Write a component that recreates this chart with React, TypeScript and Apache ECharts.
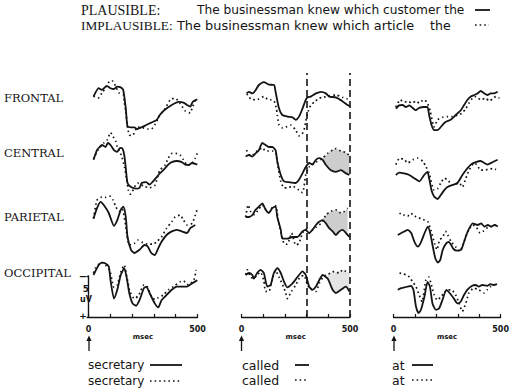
import React, { useEffect, useRef } from 'react';
import * as echarts from 'echarts';

// ---------- categories / labels ----------
const ROW_LABELS = ['FRONTAL', 'CENTRAL', 'PARIETAL', 'OCCIPITAL'];
const WORDS = ['secretary', 'called', 'at'];
const X_TICK_LABELS: Record<number, string> = { 0: '0', 500: '500' };
const X_UNIT = 'msec';
const SCALE_LABELS = ['5', 'uV', '−', '+'];
const DASH_MS = [300, 500];
const HEADER_PL = ['PLAUSIBLE:', 'The businessman knew which customer the'];
const HEADER_IM = ['IMPLAUSIBLE:', 'The businessman knew which article', 'the'];

// ---------- data: [ms, microvolts] (negative plotted up) ----------
// "secretary"
const SEC_F_PL = [[23,-1.3],[47,-2.35],[61,-2.15],[84,-2.65],[101,-2.35],[117,-2.25],[131,-2.55],[148,-2.45],[159,-2.15],[171,0.15],[179,2.45],[195,2.55],[210,2.55],[223,2.75],[242,2.55],[265,2.25],[288,1.95],[312,1.65],[327,1.0],[350,0.35],[382,-0.25],[413,-0.65],[436,-0.55],[452,-0.25],[467,-0.05],[478,-0.65],[499,-0.95]];
const SEC_F_IM = [[23,-1.35],[47,-1.15],[61,-1.75],[84,-2.6],[98,-3.25],[110,-3.25],[125,-2.55],[140,-1.75],[160,-1.5],[164,-0.65],[171,0.55],[176,1.85],[187,3.5],[202,3.55],[225,2.5],[250,2.6],[272,2.75],[288,2.75],[304,2.25],[327,1.05],[350,0.25],[382,-1.05],[400,-1.05],[420,-0.45],[444,0.5],[467,0.75],[475,0.15],[490,-0.85]];
const SEC_C_PL = [[23,-0.9],[39,-2.1],[51,-2.5],[62,-2.75],[78,-2.5],[89,-3.0],[101,-2.75],[117,-2.1],[132,-1.9],[145,-2.4],[156,-2.3],[164,-1.5],[171,0.1],[179,2.0],[195,2.5],[218,2.7],[234,2.6],[244,2.0],[265,1.9],[280,2.2],[296,1.8],[312,1.3],[327,0.8],[350,0.2],[366,-0.3],[382,-0.6],[405,-0.75],[428,-0.6],[444,-0.3],[459,-0.25],[475,-0.5],[499,-0.3]];
const SEC_C_IM = [[23,-1.0],[45,-2.2],[70,-3.0],[86,-3.4],[101,-4.3],[113,-3.8],[125,-3.2],[132,-2.5],[150,-1.5],[165,0.0],[175,1.5],[183,2.9],[192,3.4],[200,3.1],[225,2.0],[255,2.4],[280,2.6],[304,2.3],[320,1.0],[327,0.4],[350,-0.2],[366,-1.1],[383,-1.7],[400,-1.7],[420,-1.5],[436,-0.9],[455,-0.2],[475,-0.5],[490,-1.1],[499,-1.7]];
const SEC_P_PL = [[23,-0.8],[39,-2.1],[55,-2.9],[70,-2.5],[93,-1.5],[117,0.1],[132,-0.6],[148,-1.9],[160,-2.3],[171,-1.0],[179,1.5],[195,3.1],[210,3.5],[234,3.1],[257,2.5],[272,2.7],[288,3.5],[304,3.75],[320,2.9],[335,2.1],[358,1.25],[382,0.8],[405,0.6],[428,0.8],[452,1.0],[467,0.4],[490,0.0]];
const SEC_P_IM = [[23,-0.8],[39,-3.1],[62,-3.5],[78,-3.45],[98,-3.6],[113,-3.1],[125,-2.3],[140,-1.7],[155,-2.0],[171,0.2],[187,2.5],[210,2.3],[226,1.9],[249,2.2],[272,2.4],[296,2.4],[316,2.0],[335,1.5],[358,0.4],[382,-0.4],[397,-1.0],[420,-1.25],[436,-0.6],[452,0.0],[475,-0.2],[490,-1.25],[499,-2.0]];
const SEC_O_PL = [[23,-1.25],[47,-2.5],[62,-2.8],[78,-2.7],[93,-2.3],[101,-0.6],[117,1.7],[132,0.6],[148,-1.25],[164,-2.1],[176,-0.8],[187,1.0],[202,2.3],[218,2.6],[234,1.9],[254,0.4],[265,0.2],[280,1.0],[304,2.3],[320,2.8],[335,1.9],[358,1.25],[382,0.6],[405,0.2],[428,0.2],[452,0.2],[475,-0.2],[499,-0.6]];
const SEC_O_IM = [[23,-1.5],[31,-2.1],[47,-2.6],[62,-2.8],[78,-2.5],[93,-2.0],[101,-1.5],[109,-0.4],[117,0.3],[132,0.0],[148,-1.6],[164,-2.5],[176,-1.0],[190,0.8],[210,1.7],[230,1.3],[254,0.0],[270,0.2],[288,1.4],[304,1.8],[320,1.6],[343,1.25],[366,0.6],[390,0.2],[420,-0.4],[436,-0.5],[459,0.0],[483,-0.6],[494,-1.9]];
// "called"
const CAL_F_PL = [[23,-1.7],[34,-1.9],[50,-1.7],[65,-2.1],[80,-2.75],[103,-3.1],[126,-2.8],[150,-2.75],[157,-1.9],[173,0.2],[188,1.0],[212,1.2],[235,1.3],[250,1.6],[265,1.2],[281,0.2],[296,-0.9],[304,-1.2],[319,-1.3],[343,-1.7],[366,-1.9],[389,-1.7],[404,-1.3],[435,-1.2],[466,-0.7],[489,-0.25],[500,-0.1]];
const CAL_F_IM = [[23,-1.6],[31,-1.5],[42,-1.0],[65,-0.9],[80,-1.0],[103,-1.3],[119,-1.0],[134,-0.9],[150,-0.75],[161,0.2],[165,1.0],[173,2.25],[188,2.6],[204,2.5],[227,2.25],[250,2.9],[265,3.6],[278,3.4],[288,2.9],[296,1.8],[304,0.8],[319,-0.2],[339,-0.7],[358,-1.1],[376,-1.2],[404,-1.4],[435,-1.5],[466,-1.2],[489,-1.0]];
const CAL_C_PL = [[19,-1.3],[34,-1.5],[50,-1.3],[65,-1.7],[80,-2.1],[96,-3.0],[111,-2.75],[126,-2.5],[142,-2.5],[157,-2.1],[165,-0.7],[181,1.0],[196,1.8],[219,1.9],[250,2.0],[265,1.6],[281,0.8],[296,0.0],[312,-0.5],[327,-0.3],[343,-0.9],[358,-1.1],[374,-0.9],[389,-0.25],[412,0.4],[435,0.6],[458,0.4],[481,0.8],[497,1.0]];
const CAL_C_IM = [[23,-2.1],[42,-1.4],[57,-1.6],[72,-2.0],[96,-2.4],[111,-2.0],[126,-2.0],[142,-2.0],[157,-1.8],[165,-0.5],[181,1.8],[196,2.6],[211,2.6],[235,2.4],[265,2.9],[281,3.2],[288,2.5],[296,1.0],[312,0.0],[343,-0.6],[374,-1.1],[397,-1.7],[420,-2.1],[435,-2.3],[458,-2.0],[481,-1.8],[494,-1.5]];
const CAL_P_PL = [[19,-1.0],[34,-1.0],[50,-1.25],[65,-1.9],[80,-2.3],[96,-2.7],[111,-1.9],[126,-1.5],[142,-2.1],[157,-2.3],[165,-1.0],[181,0.6],[188,1.7],[211,1.7],[235,1.5],[258,1.5],[281,0.8],[296,0.6],[312,1.0],[327,0.6],[343,0.0],[358,-0.4],[374,-0.6],[389,-0.2],[404,0.4],[420,0.8],[435,1.25],[451,0.8],[466,0.6],[489,1.25],[500,1.5]];
const CAL_P_IM = [[19,-1.0],[31,-2.5],[42,-1.7],[57,-1.3],[80,-2.0],[96,-2.5],[111,-2.0],[126,-1.6],[142,-2.2],[157,-2.4],[170,-0.5],[181,0.8],[196,2.3],[211,2.4],[231,1.0],[250,2.5],[265,2.3],[281,1.0],[296,0.5],[312,1.0],[327,0.6],[343,0.3],[366,-0.2],[389,-1.25],[412,-1.7],[435,-1.9],[458,-1.5],[474,-1.7],[489,-2.1]];
const CAL_O_PL = [[19,-1.25],[34,-1.5],[50,-1.25],[57,-0.8],[72,-1.5],[88,-1.9],[103,-1.5],[119,0.2],[134,0.0],[149,-1.5],[165,-2.1],[181,-1.5],[196,-0.4],[211,0.3],[235,-0.2],[258,-1.0],[281,-1.7],[296,-1.25],[312,0.2],[327,0.6],[343,0.2],[358,-0.6],[374,-1.25],[397,-0.8],[420,0.6],[435,1.0],[458,0.6],[481,0.2],[497,0.8]];
const CAL_O_IM = [[19,-1.3],[26,-1.9],[42,-1.0],[57,-0.8],[72,-1.3],[88,-1.6],[103,-0.5],[111,0.8],[126,0.8],[141,-0.6],[157,-1.8],[173,-1.0],[196,0.4],[204,1.0],[211,1.7],[230,0.8],[250,0.0],[270,-1.0],[288,-1.2],[304,0.0],[320,0.5],[343,0.8],[360,-0.3],[374,-0.9],[389,-1.25],[412,-1.5],[427,-1.7],[450,-1.5],[466,-1.9],[481,-1.7],[497,-1.5]];
// "at"
const AT_F_PL = [[11,0.2],[26,-0.2],[42,-0.25],[57,0.0],[73,-0.2],[88,0.1],[103,0.4],[119,0.1],[142,0.0],[157,0.0],[165,1.0],[176,2.25],[188,2.9],[204,2.9],[219,2.5],[235,2.0],[250,1.75],[265,1.6],[281,1.2],[296,0.8],[312,0.4],[327,-0.25],[343,-0.9],[358,-1.3],[374,-1.5],[389,-1.7],[404,-2.0],[420,-1.7],[435,-1.5],[450,-1.7],[466,-1.7],[482,-1.9]];
const AT_F_IM = [[11,0.0],[31,-0.9],[50,-0.6],[65,-0.7],[88,-0.5],[103,-0.75],[119,-0.5],[139,-0.9],[155,-0.6],[170,0.5],[188,2.5],[204,1.6],[227,1.3],[250,1.2],[273,1.2],[296,1.0],[316,0.8],[335,0.2],[350,-0.5],[366,-1.1],[381,-1.3],[404,-0.9],[427,-1.1],[443,-0.75],[458,-1.0],[474,-1.3],[490,-1.1]];
const AT_C_PL = [[11,1.0],[26,0.7],[49,0.8],[73,1.0],[96,1.4],[119,1.8],[142,1.0],[157,0.6],[165,1.4],[176,2.9],[188,3.7],[204,4.0],[219,3.5],[235,2.9],[250,2.5],[273,2.25],[296,2.0],[319,1.0],[335,0.4],[358,-0.3],[381,-0.6],[404,-0.75],[420,-0.5],[435,-0.3],[458,-0.6],[482,-0.9]];
const AT_C_IM = [[11,-0.3],[28,-1.1],[51,-0.9],[66,-0.5],[89,-0.9],[113,-1.1],[136,-0.7],[151,0.0],[165,0.8],[188,2.9],[204,2.7],[219,2.0],[235,1.4],[250,1.6],[273,2.25],[304,2.0],[319,2.5],[335,1.4],[350,0.4],[374,-0.5],[385,-0.3],[404,0.4],[420,0.4],[437,0.3],[460,0.2],[475,0.3]];
const AT_P_PL = [[20,1.25],[36,1.0],[51,0.8],[66,0.6],[82,1.0],[97,2.1],[113,2.7],[128,2.1],[144,1.0],[159,0.2],[170,1.0],[182,2.7],[194,4.2],[205,4.7],[216,4.4],[228,3.1],[244,2.3],[256,2.1],[267,2.5],[278,3.0],[293,3.2],[313,3.1],[329,1.9],[344,0.8],[367,-0.2],[390,0.0],[406,-0.2],[421,0.2],[437,0.0],[452,0.2],[468,0.0],[483,0.2]];
const AT_P_IM = [[28,-1.5],[43,-1.2],[51,-1.25],[66,-1.1],[74,-1.4],[89,-1.4],[105,-1.0],[128,-0.8],[144,-0.6],[159,-0.4],[175,0.8],[190,2.3],[201,3.1],[213,1.9],[228,1.5],[241,0.8],[251,1.25],[267,2.1],[290,2.8],[306,3.3],[321,2.5],[344,0.8],[367,0.0],[384,0.3],[401,1.0],[414,0.8],[437,0.3],[452,0.2],[468,0.0],[483,0.0]];
const AT_O_PL = [[20,0.6],[36,0.4],[51,0.3],[66,0.2],[82,0.1],[93,0.6],[105,2.7],[117,3.5],[128,3.1],[144,1.5],[159,-0.4],[170,0.2],[182,2.3],[198,3.1],[213,2.9],[228,1.9],[247,0.6],[262,1.0],[282,1.7],[298,2.3],[313,2.1],[329,1.25],[344,0.6],[367,0.1],[383,0.0],[398,0.2],[414,0.0],[437,0.1],[452,-0.1],[468,0.0],[483,-0.1]];
const AT_O_IM = [[28,-1.5],[43,-1.4],[59,-1.25],[74,-1.0],[89,-0.4],[105,0.2],[120,1.25],[133,2.1],[151,-0.6],[164,-1.0],[177,0.0],[190,1.25],[205,1.9],[220,1.5],[236,1.0],[251,0.6],[270,0.6],[290,1.25],[306,2.3],[321,3.3],[337,2.3],[352,1.0],[375,0.4],[398,0.6],[421,1.0],[437,0.6],[452,0.2],[468,0.2]];

// shaded difference areas ("called"): [ms, upper, lower]
const CAL_C_BAND = [[374,-1.1,-0.9],[389,-1.5,-0.25],[412,-2.1,0.4],[435,-2.3,0.6],[458,-2.0,0.4],[481,-1.8,0.8],[497,-1.5,1.0]];
const CAL_P_BAND = [[374,-0.7,-0.6],[389,-1.25,-0.2],[412,-1.7,0.6],[435,-1.9,1.25],[458,-1.5,0.7],[474,-1.7,0.8],[489,-2.1,1.25]];
const CAL_O_BAND = [[397,-1.3,-0.8],[412,-1.5,0.2],[427,-1.7,0.8],[450,-1.5,0.7],[466,-1.9,0.5],[481,-1.7,0.2],[497,-1.5,0.8]];

const PANELS = [
  [[SEC_F_PL, SEC_F_IM], [SEC_C_PL, SEC_C_IM], [SEC_P_PL, SEC_P_IM], [SEC_O_PL, SEC_O_IM]],
  [[CAL_F_PL, CAL_F_IM], [CAL_C_PL, CAL_C_IM], [CAL_P_PL, CAL_P_IM], [CAL_O_PL, CAL_O_IM]],
  [[AT_F_PL, AT_F_IM], [AT_C_PL, AT_C_IM], [AT_P_PL, AT_P_IM], [AT_O_PL, AT_O_IM]],
];
const BANDS: Array<[number, number, number[][], number]> = [[1, 1, CAL_C_BAND, 0.4], [1, 2, CAL_P_BAND, 0.4], [1, 3, CAL_O_BAND, 0.22]];

// ---------- layout ----------
const COL_LEFT = [88.5, 241.5, 393.5];
const COL_WIDTH = [109, 108.5, 108];
const ROW_BASE = [107, 167, 225, 285];
const ROW_LABEL_Y = [98, 153, 217, 273];
const PX_PER_UV = 8;
const INK = '#141414';
const DOT: number[] = [1.6, 3];

function buildOption() {
  const grid: any[] = [];
  const xAxis: any[] = [];
  const yAxis: any[] = [];
  const series: any[] = [];
  const gi = (c: number, r: number) => c * 4 + r;

  for (let c = 0; c < 3; c++) {
    for (let r = 0; r < 4; r++) {
      const bottomRow = r === 3;
      const yMax = bottomRow ? 4 : 6;
      grid.push({ left: COL_LEFT[c], width: COL_WIDTH[c], top: ROW_BASE[r] - 6 * PX_PER_UV, height: (6 + yMax) * PX_PER_UV });
      xAxis.push({
        gridIndex: gi(c, r), type: 'value', min: 0, max: 500, interval: 100, show: bottomRow,
        axisLine: { show: true, onZero: false, lineStyle: { color: INK, width: 1.3 } },
        axisTick: { show: true, inside: true, length: 3, lineStyle: { color: INK, width: 1.2 } },
        splitLine: { show: false },
        axisLabel: {
          margin: 8, fontSize: 8, fontWeight: 'bold', color: INK, fontFamily: 'DejaVu Sans',
          showMinLabel: true, showMaxLabel: true,
          formatter: (v: number) => X_TICK_LABELS[v] ?? '',
        },
        name: X_UNIT, nameLocation: 'middle', nameGap: 8,
        nameTextStyle: { fontSize: 7, fontWeight: 'bold', color: INK, fontFamily: 'DejaVu Sans' },
      });
      yAxis.push({ gridIndex: gi(c, r), type: 'value', inverse: true, min: -6, max: yMax, show: false });
      const [pl, im] = PANELS[c][r];
      series.push({
        type: 'line', xAxisIndex: gi(c, r), yAxisIndex: gi(c, r), data: pl, symbol: 'none', smooth: 0.2,
        lineStyle: { color: INK, width: 1.8 }, z: 3,
      });
      series.push({
        type: 'line', xAxisIndex: gi(c, r), yAxisIndex: gi(c, r), data: im, symbol: 'none', smooth: 0.2,
        lineStyle: { color: INK, width: 1.7, type: DOT }, z: 3,
      });
    }
  }

  BANDS.forEach(([c, r, band, alpha]) => {
    series.push({
      type: 'custom', xAxisIndex: gi(c, r), yAxisIndex: gi(c, r), data: band, silent: true, z: 1,
      encode: { x: 0, y: [1, 2] },
      renderItem: (params: any, api: any) => {
        if (params.dataIndex !== 0) return null;
        const upper = band.map((p) => api.coord([p[0], p[1]]));
        const lower = band.slice().reverse().map((p) => api.coord([p[0], p[2]]));
        return { type: 'polygon', shape: { points: upper.concat(lower) }, style: { fill: `rgba(130,130,130,${alpha})` } };
      },
    });
  });

  // scale bar grid (index 12): 5 microvolt bar
  grid.push({ left: 88.5, top: 276, width: 10, height: 41 });
  xAxis.push({ gridIndex: 12, type: 'value', min: 0, max: 1, show: false });
  yAxis.push({
    gridIndex: 12, type: 'value', min: 0, max: 5, interval: 5, position: 'left',
    axisLine: { show: true, onZero: false, lineStyle: { color: INK, width: 1.4 } },
    axisTick: { show: true, length: 2, lineStyle: { color: INK, width: 1.4 } },
    splitLine: { show: false },
    axisLabel: { show: false },
  });
  series.push({ type: 'line', xAxisIndex: 12, yAxisIndex: 12, data: [], symbol: 'none' });

  // dashed markers grid (index 13)
  grid.push({ left: COL_LEFT[1], width: COL_WIDTH[1], top: 73, height: 244 });
  xAxis.push({ gridIndex: 13, type: 'value', min: 0, max: 500, show: false });
  yAxis.push({ gridIndex: 13, type: 'value', min: 0, max: 1, show: false });
  series.push({
    type: 'line', xAxisIndex: 13, yAxisIndex: 13, data: [[300, 0.5]], symbol: 'none', lineStyle: { opacity: 0 },
    markLine: {
      silent: true, symbol: ['none', 'none'], label: { show: false },
      lineStyle: { type: [7, 4], color: INK, width: 1.6 },
      data: DASH_MS.map((ms) => ({ xAxis: ms })),
    },
  });

  const serif = 'DejaVu Serif';
  const serif2 = 'Liberation Serif';
  const sans = 'DejaVu Sans';
  const txt = (text: string, x: number, y: number, size: number, family: string, extra: any = {}) => ({
    type: 'text', z: 10, style: { text, x, y, fontSize: size, fontFamily: family, fill: INK, verticalAlign: 'middle', align: 'left', ...extra },
  });
  const hline = (x1: number, x2: number, y: number, dotted: boolean) => ({
    type: 'line', z: 10, shape: { x1, y1: y, x2, y2: y },
    style: { stroke: INK, lineWidth: dotted ? 1.6 : 1.8, lineDash: dotted ? DOT : null },
  });
  const arrow = (x: number) => ({
    type: 'group', z: 10, children: [
      { type: 'line', shape: { x1: x, y1: 351, x2: x, y2: 339 }, style: { stroke: INK, lineWidth: 1.3 } },
      { type: 'polygon', shape: { points: [[x - 2.6, 341], [x, 335.5], [x + 2.6, 341]] }, style: { fill: INK } },
    ],
  });

  const graphic: any[] = [
    txt(HEADER_PL[0], 81, 10, 14, serif2),
    txt(HEADER_PL[1], 197, 10, 12.2, sans),
    hline(475, 490, 10, false),
    txt(HEADER_IM[0], 81, 25, 13.3, serif2),
    txt(HEADER_IM[1], 177, 25, 12.9, sans),
    txt(HEADER_IM[2], 430, 25, 12.6, sans),
    hline(475, 489, 25, true),
    ...ROW_LABELS.map((l, i) => txt(l, 4, ROW_LABEL_Y[i], 11.5, serif)),
    txt(SCALE_LABELS[0], 86, 289, 9, sans, { align: 'center', fontWeight: 'bold' }),
    txt(SCALE_LABELS[1], 86, 299, 8, sans, { align: 'center', fontWeight: 'bold' }),
    txt(SCALE_LABELS[2], 83, 276, 10, sans, { align: 'center', fontWeight: 'bold' }),
    txt(SCALE_LABELS[3], 83, 316, 9, sans, { align: 'center', fontWeight: 'bold' }),
    arrow(89), arrow(241.5), arrow(394),
    txt(WORDS[0], 88, 365, 12, sans), hline(150, 182, 365, false),
    txt(WORDS[0], 88, 381, 12, sans), hline(150, 180, 381, true),
    txt(WORDS[1], 242, 365, 12.5, sans), hline(295, 309, 365, false),
    txt(WORDS[1], 242, 380, 12.5, sans), hline(295, 308, 380, true),
    txt(WORDS[2], 392, 365, 12.5, sans), hline(412, 433, 365, false),
    txt(WORDS[2], 392, 380, 12.5, sans), hline(412, 433, 380, true),
  ];

  return { animation: false, backgroundColor: '#ffffff', grid, xAxis, yAxis, series, graphic };
}

export default function App() {
  const ref = useRef<HTMLDivElement>(null);
  useEffect(() => {
    document.body.style.margin = '0';
    if (!ref.current) return;
    const chart = echarts.init(ref.current, undefined, { renderer: 'svg' });
    chart.setOption(buildOption() as any);
    return () => chart.dispose();
  }, []);
  return <div ref={ref} style={{ position: 'fixed', left: 0, top: 0, width: 512, height: 389, background: '#fff' }} />;
}
